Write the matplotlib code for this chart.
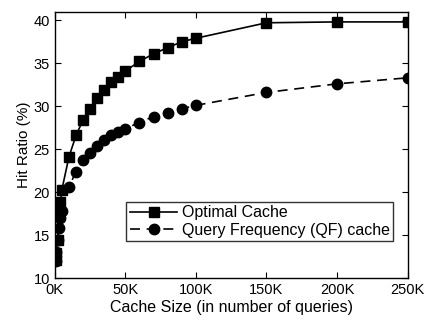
import matplotlib
matplotlib.use('Agg')
import matplotlib.pyplot as plt
from matplotlib.ticker import FuncFormatter

plt.rcParams['font.family'] = ['Liberation Sans', 'DejaVu Sans']

### cache sizes in thousands of queries
opt_x = [0.5, 1, 2, 3, 4, 5, 10, 15, 20, 25, 30, 35, 40, 45, 50, 60, 70, 80, 90, 100, 150, 200, 250]
opt_y = [12.1, 12.9, 14.4, 17.7, 18.9, 20.3, 24.1, 26.6, 28.4, 29.7, 30.9, 31.9, 32.8, 33.4, 34.1,
         35.2, 36.1, 36.8, 37.5, 37.9, 39.7, 39.8, 39.8]

qf_x = [0.5, 1, 2, 3, 4, 5, 10, 15, 20, 25, 30, 35, 40, 45, 50, 60, 70, 80, 90, 100, 150, 200, 250]
qf_y = [12.0, 13.0, 14.4, 15.8, 17.0, 17.8, 20.6, 22.4, 23.7, 24.6, 25.4, 26.1, 26.6, 27.0, 27.4,
        28.1, 28.8, 29.2, 29.7, 30.1, 31.6, 32.6, 33.3]

xticks = [0, 50, 100, 150, 200, 250]
yticks = [10, 15, 20, 25, 30, 35, 40]

fig = plt.figure(figsize=(4.25, 3.22), dpi=100)
ax = fig.add_axes([0.129, 0.136, 0.830, 0.828])

ax.plot(opt_x, opt_y, color='k', lw=1.2, marker='s', ms=6.5, label='Optimal Cache')
ax.plot(qf_x, qf_y, color='k', lw=1.2, ls=(0, (6, 4)), marker='o', ms=7.5,
        label='Query Frequency (QF) cache')

ax.set_xlim(0, 250)
ax.set_ylim(10, 41)
ax.set_xticks(xticks)
ax.set_yticks(yticks)
ax.xaxis.set_major_formatter(FuncFormatter(lambda v, p: '%dK' % v))
ax.tick_params(direction='in', top=True, right=True, labelsize=10.5, length=4)
for s in ax.spines.values():
    s.set_linewidth(1.0)

ax.set_xlabel('Cache Size (in number of queries)', fontsize=11.5, labelpad=2)
ax.set_ylabel('Hit Ratio (%)', fontsize=11, labelpad=2)

leg = ax.legend(loc='lower right', bbox_to_anchor=(0.96, 0.14), fontsize=11.5,
                frameon=True, fancybox=False, edgecolor='k', handlelength=3.0,
                borderpad=0.2, labelspacing=0.15, handletextpad=0.3, borderaxespad=0)
leg.get_frame().set_linewidth(1.0)

fig.savefig('out.png', dpi=100)
